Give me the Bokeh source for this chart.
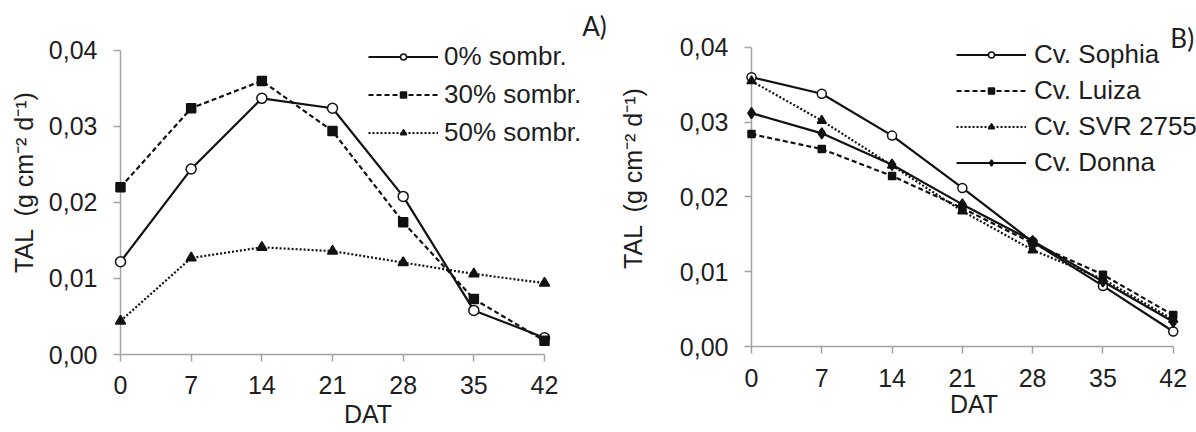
from bokeh.plotting import figure
from bokeh.layouts import row
from bokeh.models import FixedTicker, Range1d, Label
from bokeh.embed import file_html
from bokeh.resources import INLINE

# ---------------- data ----------------
days = [0, 7, 14, 21, 28, 35, 42]
x_ticks = [0, 7, 14, 21, 28, 35, 42]
y_ticks = [0.0, 0.01, 0.02, 0.03, 0.04]
y_tick_labels = ["0,00", "0,01", "0,02", "0,03", "0,04"]

# Panel A: shading levels
shade_names = ["0% sombr.", "30% sombr.", "50% sombr."]
shade_0 = [0.0122, 0.0244, 0.0337, 0.0324, 0.0208, 0.0058, 0.0022]
shade_30 = [0.0220, 0.0324, 0.0360, 0.0294, 0.0174, 0.0073, 0.0018]
shade_50 = [0.0044, 0.0127, 0.0141, 0.0136, 0.0121, 0.0106, 0.0094]

# Panel B: cultivars
cv_names = ["Cv. Sophia", "Cv. Luiza", "Cv. SVR 2755", "Cv. Donna"]
cv_sophia = [0.0360, 0.0338, 0.0282, 0.0212, 0.0140, 0.0081, 0.0020]
cv_luiza = [0.0284, 0.0264, 0.0228, 0.0185, 0.0138, 0.0096, 0.0042]
cv_svr = [0.0355, 0.0302, 0.0242, 0.0181, 0.0129, 0.0090, 0.0036]
cv_donna = [0.0312, 0.0285, 0.0243, 0.0190, 0.0141, 0.0087, 0.0033]

FONT = "Liberation Sans"
TXT = "#1e1e1e"
AX = "#a3a3a3"
LC = "#111111"
X_MAX = 42
Y_MAX = 0.04


def make_fig(width, height, bl, bb, x_end, y_end, xstand, ystand, xlab_stand, ylab_stand):
    # frame extends beyond the axes (to hold legend / panel letter); axes are bounded
    p = figure(width=width, height=height, output_backend="svg", toolbar_location=None,
               x_range=Range1d(0, x_end), y_range=Range1d(0, y_end),
               min_border_left=bl, min_border_right=0, min_border_top=10, min_border_bottom=bb)
    p.outline_line_color = None
    p.grid.visible = False
    p.background_fill_color = "white"
    p.border_fill_color = "white"
    for ax in (p.xaxis[0], p.yaxis[0]):
        ax.axis_line_color = AX
        ax.axis_line_width = 1.5
        ax.major_tick_line_color = AX
        ax.major_tick_line_width = 1.5
        ax.major_tick_out = 7
        ax.major_tick_in = 0
        ax.minor_tick_line_color = None
        ax.major_label_text_font = FONT
        ax.major_label_text_font_size = "25px"
        ax.major_label_text_color = TXT
        ax.axis_label_text_font = FONT
        ax.axis_label_text_font_size = "25px"
        ax.axis_label_text_font_style = "normal"
        ax.axis_label_text_color = TXT
    p.xaxis.bounds = (0, X_MAX)
    p.yaxis.bounds = (0, Y_MAX)
    p.xaxis.ticker = FixedTicker(ticks=x_ticks)
    p.yaxis.ticker = FixedTicker(ticks=y_ticks)
    p.yaxis.major_label_overrides = {t: l for t, l in zip(y_ticks, y_tick_labels)}
    p.xaxis.major_label_standoff = xstand
    p.yaxis.major_label_standoff = ystand
    p.xaxis.axis_label = "DAT"
    p.xaxis.axis_label_standoff = xlab_stand
    p.yaxis.axis_label = "TAL\u2002(g cm\u207b\u00b2 d\u207b\u00b9)"
    p.yaxis.axis_label_standoff = ylab_stand
    return p


def series(p, y, label, dash, marker, msize, fill):
    p.line(days, y, line_color=LC, line_width=2.2, line_dash=dash, legend_label=label, level="overlay")
    p.scatter(days, y, marker=marker, size=msize, line_color=LC, line_width=1.5,
              fill_color=fill, legend_label=label, level="overlay")


def style_legend(p, vx, vy, spacing, standoff):
    lg = p.legend[0]
    lg.location = (vx, vy)
    lg.padding = 0
    lg.margin = 0
    lg.border_line_color = None
    lg.background_fill_alpha = 0
    lg.glyph_width = 70
    lg.glyph_height = 15
    lg.label_height = 30
    lg.spacing = spacing
    lg.label_standoff = standoff
    lg.label_text_font = FONT
    lg.label_text_font_size = "26px"
    lg.label_text_color = TXT


# ---------------- Panel A ----------------
pa = make_fig(615, 440, 120, 86, 49.03, 0.04526, 14, 16, 3, 8)
series(pa, shade_0, shade_names[0], "solid", "circle", 10, "white")
series(pa, shade_30, shade_names[1], "5 3", "square", 9, LC)
series(pa, shade_50, shade_names[2], "2 2", "triangle", 10, LC)
style_legend(pa, 248, 206, 7, 6)
pa.add_layout(Label(x=46.95, y=0.0432, text="A)", text_font="Lato", text_font_size="26px",
                    text_color=TXT, text_baseline="middle", text_align="center"))

# ---------------- Panel B ----------------
pb = make_fig(581, 432, 123, 85, 44.32, 0.04493, 15, 16, 0, 30)
series(pb, cv_sophia, cv_names[0], "solid", "circle", 9, "white")
series(pb, cv_luiza, cv_names[1], "5 3", "square", 7, LC)
series(pb, cv_svr, cv_names[2], "2 2", "triangle", 9, LC)
series(pb, cv_donna, cv_names[3], "solid", "diamond", 11, LC)
style_legend(pb, 205, 168, 5, 8)
pb.add_layout(Label(x=42.9, y=0.0412, text="B)", text_font="Lato", text_font_size="26px",
                    text_color=TXT, text_baseline="middle", text_align="center"))

layout = row(pa, pb, spacing=0)
open("out.html", "w").write(file_html(layout, INLINE))
